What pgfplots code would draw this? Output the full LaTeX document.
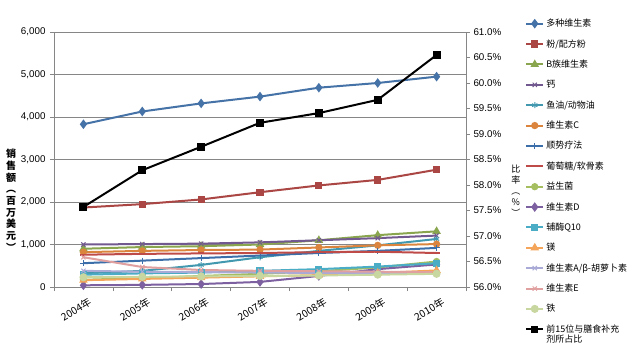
\documentclass[border=0pt]{standalone}
\usepackage{pgfplots}
\pgfplotsset{compat=1.18}
\usepackage{fontspec}
\setmainfont{Liberation Sans}
\newfontfamily\cjk{Noto Sans CJK SC}
\definecolor{axisgray}{RGB}{134,134,134}
\definecolor{c1}{RGB}{69,114,167}
\definecolor{c2}{RGB}{170,70,67}
\definecolor{c3}{RGB}{137,165,78}
\definecolor{c4}{RGB}{113,88,143}
\definecolor{c5}{RGB}{65,152,175}
\definecolor{c6}{RGB}{219,132,61}
\definecolor{c7}{RGB}{60,110,170}
\definecolor{c8}{RGB}{190,75,72}
\definecolor{c9}{RGB}{165,190,95}
\definecolor{c10}{RGB}{125,96,160}
\definecolor{c11}{RGB}{75,172,198}
\definecolor{c12}{RGB}{245,165,90}
\definecolor{c13}{RGB}{170,170,215}
\definecolor{c14}{RGB}{225,160,160}
\definecolor{c15}{RGB}{200,215,160}
\begin{document}
\begin{tikzpicture}
\begin{axis}[
  at={(0,0)}, anchor=south west,
  scale only axis, width=412pt, height=255pt,
  xmin=-0.5, xmax=6.5, ymin=0, ymax=6000,
  axis x line*=bottom, axis y line*=left,
  axis line style={draw=axisgray, line width=0.6pt, -},
  tick align=outside,
  xtick={0,...,6},
  xticklabels={2004年,2005年,2006年,2007年,2008年,2009年,2010年},
  major x tick style={draw=none},
  minor xtick={-0.5,0.5,1.5,2.5,3.5,4.5,5.5,6.5},
  minor x tick style={draw=axisgray, line width=0.6pt},
  minor tick length=4pt,
  ytick={0,1000,2000,3000,4000,5000,6000},
  major y tick style={draw=axisgray, line width=0.6pt},
  major tick length=4pt,
  scaled y ticks=false,
  /pgf/number format/.cd, 1000 sep={,}, assume math mode=true, /pgfplots/.cd,
  ymajorgrids, grid style={draw=axisgray, line width=0.6pt},
  tick label style={font=\fontsize{9.8}{10}\selectfont},
  yticklabel style={xshift=-1pt},
  xticklabel style={font=\cjk\fontsize{10.2}{11}\selectfont, rotate=31, anchor=north east, yshift=-4pt, xshift=4pt},
  ylabel={销\\售\\额\\︵\\百\\万\\美\\元\\︶},
  ylabel style={rotate=-90, align=center, font=\cjk\bfseries\fontsize{10}{11.7}\selectfont, at={(axis description cs:-0.104,0.34)}, anchor=center},
  legend style={font=\cjk\fontsize{9}{9.5}\selectfont, draw=none, fill=none, at={(1.136,1.067)}, anchor=north west, row sep=7.3pt, legend cell align=left},
  every axis plot/.append style={line width=2pt, mark size=2.6pt, mark options={solid}},
]
\addplot[c1, mark=diamond*, mark size=3.2pt] coordinates {(0,3830)(1,4130)(2,4320)(3,4480)(4,4690)(5,4800)(6,4950)};
\addlegendentry{多种维生素}
\addplot[c2, mark=square*] coordinates {(0,1870)(1,1950)(2,2060)(3,2230)(4,2390)(5,2520)(6,2760)};
\addlegendentry{粉/配方粉}
\addplot[c3, mark=triangle*, mark size=3pt] coordinates {(0,900)(1,940)(2,960)(3,1000)(4,1100)(5,1220)(6,1310)};
\addlegendentry{B族维生素}
\addplot[c4, mark=x, mark size=3pt, mark options={line width=1pt}] coordinates {(0,1000)(1,1010)(2,1020)(3,1050)(4,1100)(5,1150)(6,1210)};
\addlegendentry{钙}
\addplot[c5, mark=asterisk, mark size=3pt, mark options={line width=1pt}] coordinates {(0,320)(1,380)(2,520)(3,700)(4,850)(5,980)(6,1130)};
\addlegendentry{鱼油/动物油}
\addplot[c6, mark=*] coordinates {(0,820)(1,850)(2,870)(3,880)(4,930)(5,980)(6,1010)};
\addlegendentry{维生素C}
\addplot[c7, mark=+, mark size=3pt, mark options={line width=1pt}] coordinates {(0,560)(1,620)(2,680)(3,740)(4,800)(5,850)(6,920)};
\addlegendentry{顺势疗法}
\addplot[c8, mark=-, mark size=3pt] coordinates {(0,760)(1,780)(2,790)(3,800)(4,820)(5,830)(6,800)};
\addlegendentry{葡萄糖/软骨素}
\addplot[c9, mark=*] coordinates {(0,170)(1,210)(2,260)(3,310)(4,370)(5,460)(6,600)};
\addlegendentry{益生菌}
\addplot[c10, mark=diamond*, mark size=3.2pt] coordinates {(0,40)(1,50)(2,70)(3,120)(4,260)(5,420)(6,530)};
\addlegendentry{维生素D}
\addplot[c11, mark=square*] coordinates {(0,290)(1,320)(2,340)(3,380)(4,420)(5,480)(6,560)};
\addlegendentry{辅酶Q10}
\addplot[c12, mark=triangle*, mark size=3pt] coordinates {(0,160)(1,190)(2,220)(3,250)(4,280)(5,330)(6,390)};
\addlegendentry{镁}
\addplot[c13, mark=x, mark size=3pt, mark options={line width=1pt}] coordinates {(0,380)(1,360)(2,350)(3,340)(4,330)(5,330)(6,340)};
\addlegendentry{维生素A/β-胡萝卜素}
\addplot[c14, mark=x, mark size=3pt, mark options={line width=1pt}] coordinates {(0,700)(1,470)(2,400)(3,380)(4,370)(5,360)(6,350)};
\addlegendentry{维生素E}
\addplot[c15, mark=*, mark size=3pt] coordinates {(0,230)(1,240)(2,250)(3,260)(4,270)(5,290)(6,310)};
\addlegendentry{铁}
\addlegendimage{black, line width=2pt, mark=square*, mark size=2.6pt}
\addlegendentry{\begin{tabular}[t]{@{}l@{}}前15位与膳食补充\\剂所占比\end{tabular}}
\end{axis}
\begin{axis}[
  at={(0,0)}, anchor=south west,
  scale only axis, width=412pt, height=255pt,
  xmin=-0.5, xmax=6.5, ymin=56, ymax=61,
  axis y line*=right, axis x line=none,
  axis line style={draw=axisgray, line width=0.6pt, -},
  tick align=outside, major tick length=4pt,
  major y tick style={draw=axisgray, line width=0.6pt},
  ytick={56,56.5,57,57.5,58,58.5,59,59.5,60,60.5,61},
  /pgf/number format/.cd, assume math mode=true, /pgfplots/.cd,
  yticklabel={\pgfmathprintnumber[fixed,fixed zerofill,precision=1]{\tick}\%},
  tick label style={font=\fontsize{9.8}{10}\selectfont},
  ylabel={比\\率\\︵\\\%\\︶},
  ylabel style={rotate=-90, align=center, font=\cjk\fontsize{9}{11}\selectfont, at={(axis description cs:1.121,0.376)}, anchor=center},
]
\addplot[black, line width=2pt, mark=square*, mark size=3pt] coordinates {(0,57.57)(1,58.29)(2,58.75)(3,59.22)(4,59.41)(5,59.67)(6,60.55)};
\end{axis}
\pgfresetboundingbox
\path (-54pt,-58pt) rectangle (582pt,287pt);
\end{tikzpicture}
\end{document}
